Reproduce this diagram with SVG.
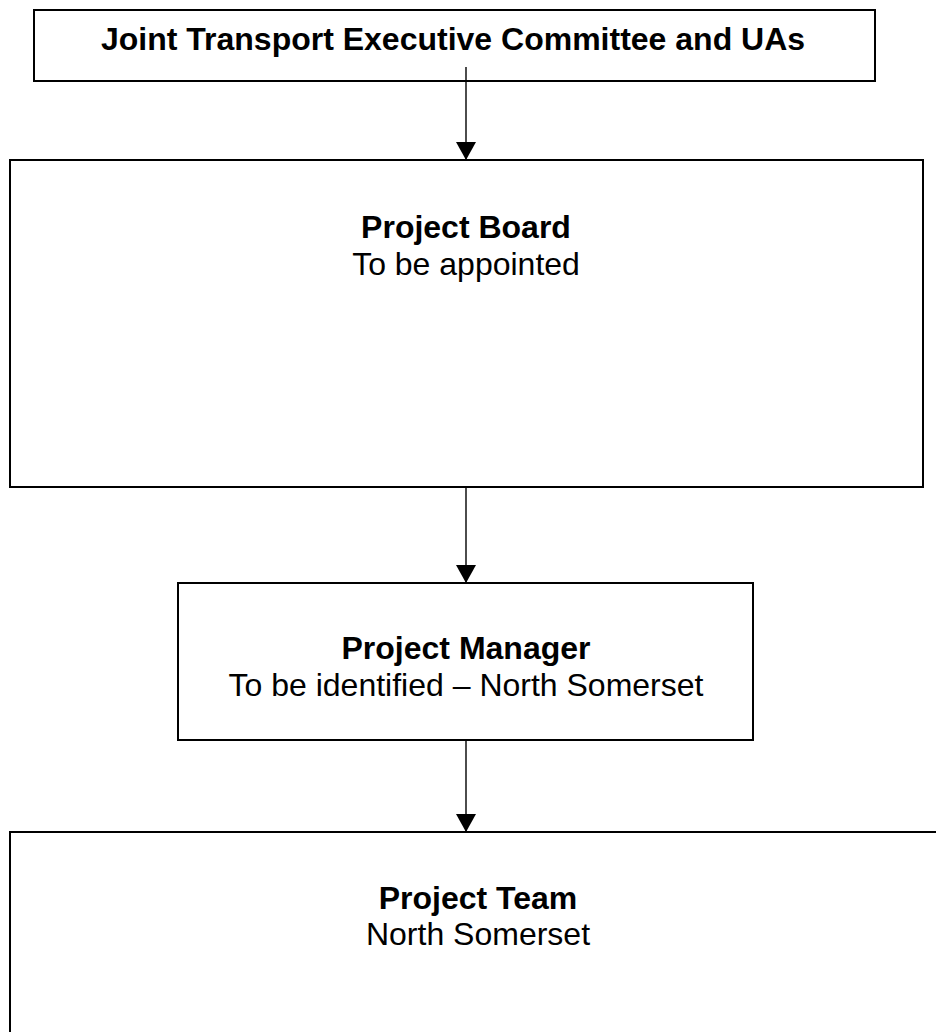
<svg xmlns="http://www.w3.org/2000/svg" width="936" height="1032" viewBox="0 0 936 1032">
<style>
.box{fill:#fff;stroke:#000;stroke-width:2}
.conn{stroke:#000;stroke-width:1.4;fill:none}
.b{font-family:"Liberation Sans",Arial,sans-serif;font-weight:bold;font-size:32px;fill:#000;text-anchor:middle}
.r{font-family:"Liberation Sans",Arial,sans-serif;font-size:32px;fill:#000;text-anchor:middle}
</style>
<defs>
<marker id="ah" markerWidth="18" markerHeight="20" refX="18" refY="10" orient="auto" markerUnits="userSpaceOnUse" viewBox="0 0 18 20">
<path d="M0,0 L18,10 L0,20 Z" fill="#000"/>
</marker>
</defs>
<rect width="936" height="1032" fill="#fff"/>
<g id="n1">
<rect class="box" x="34" y="10" width="841" height="71"/>
<text class="b" x="453" y="50">Joint Transport Executive Committee and UAs</text>
</g>
<g id="n2">
<rect class="box" x="10" y="160" width="913" height="327"/>
<text class="b" x="466" y="238">Project Board</text>
<text class="r" x="466" y="275">To be appointed</text>
</g>
<g id="n3">
<rect class="box" x="178" y="583" width="575" height="157"/>
<text class="b" x="466" y="659">Project Manager</text>
<text class="r" x="466" y="696">To be identified – North Somerset</text>
</g>
<g id="n4">
<rect class="box" x="10" y="832" width="940" height="220"/>
<text class="b" x="478" y="909">Project Team</text>
<text class="r" x="478" y="945">North Somerset</text>
</g>
<g id="connectors">
<line class="conn" x1="466" y1="67" x2="466" y2="160" marker-end="url(#ah)"/>
<line class="conn" x1="466" y1="487" x2="466" y2="583" marker-end="url(#ah)"/>
<line class="conn" x1="466" y1="740" x2="466" y2="832" marker-end="url(#ah)"/>
</g>
</svg>
